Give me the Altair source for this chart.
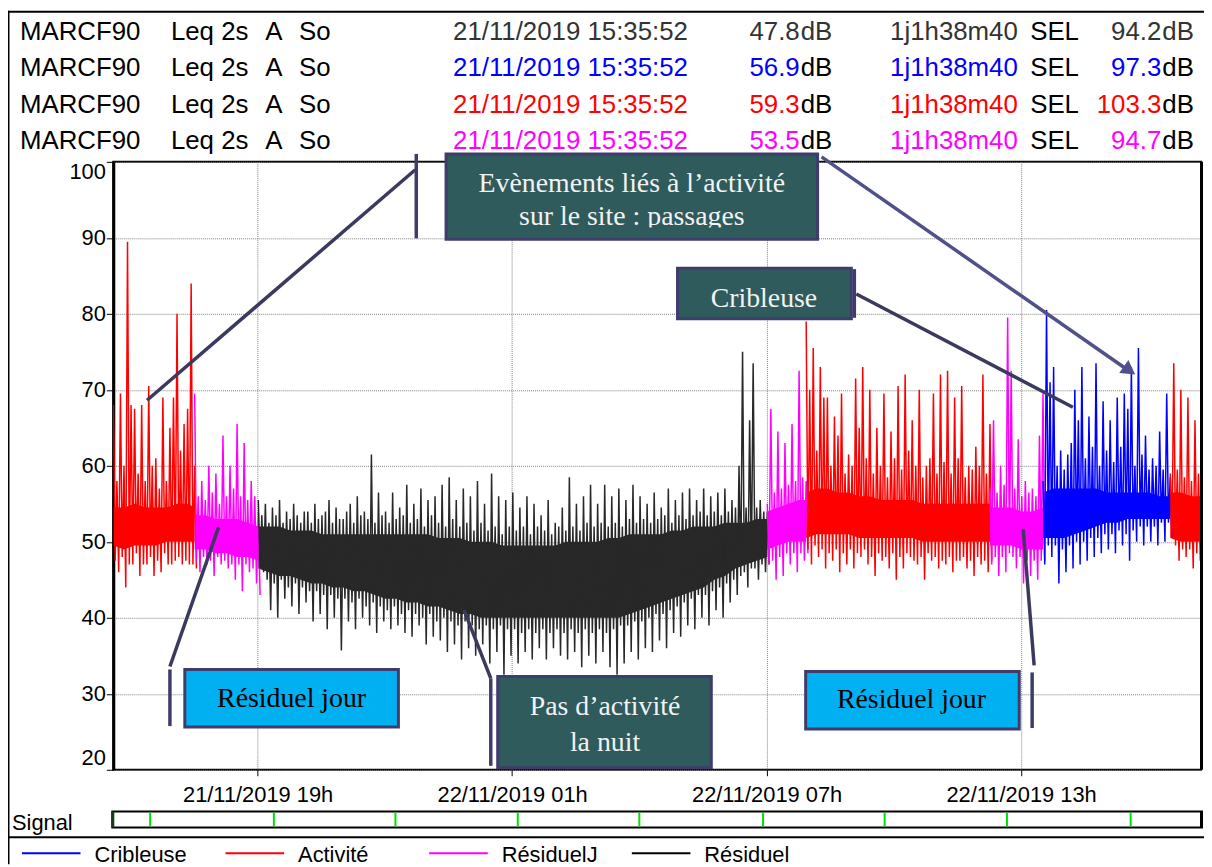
import altair as alt
import pandas as pd

# ---------------- data ----------------
SERIES = ["Cribleuse", "Activité", "RésiduelJ", "Résiduel"]
COLORS = ["#0000FF", "#FF0000", "#FF00FF", "#282828"]

STEP_MIN = 5      # minutes between read bins (max then min inside each bin)
CORE_STEP = 3     # dense core band read every 3 bins

seg_series = ["Activité", "RésiduelJ", "Résiduel", "RésiduelJ",
              "Activité", "RésiduelJ", "Cribleuse", "Activité"]
seg_start = ["2019-11-21 15:36", "2019-11-21 17:31", "2019-11-21 19:01",
             "2019-11-22 07:01", "2019-11-22 07:56", "2019-11-22 12:16",
             "2019-11-22 13:31", "2019-11-22 16:31"]

# --- Activité 15:36-17:31
red1_hi = [68, 58, 69.5, 60, 89.5, 68, 67.5, 59, 68, 58, 70.5, 60, 61, 57,
           69, 58, 65, 69, 80, 62, 65.5, 67.5, 84, 60]
red1_lo = [47.5, 46, 48, 44, 47, 47, 48.5, 45.5, 47, 47, 48, 45.5, 47.5, 46,
           48.5, 47, 47, 47.5, 48, 47, 47.5, 47, 47, 46.5]
red1_clo = [49.5, 49, 49.5, 49.5, 49.5, 50, 50, 50, 50]
red1_chi = [54.5, 54.5, 55, 54.5, 54.5, 54.5, 55, 55, 54.5]

# --- Résiduel J 17:31-19:01
mag1_hi = [69.5, 56, 58, 55.5, 60, 56.5, 59, 55, 64, 56, 60, 57, 65.5, 56,
           63, 55.5, 58, 56, 54]
mag1_lo = [47.5, 46, 48, 47, 47.5, 45.5, 48, 47, 47.5, 46.5, 47, 45, 47,
           43.5, 47, 46, 46.5, 44.5, 43]
mag1_clo = [49, 49, 48.5, 48.5, 48, 48, 47.5]
mag1_chi = [53.5, 53.5, 53, 53, 53, 52.5, 52]

# --- Résiduel (night) 19:01-07:01
night_hi = [55.5, 53.5, 55, 52.5, 54.5, 53.5, 55.5, 52.5, 54, 53,
            55, 53.5, 52.5, 54, 54, 52.5, 55, 53, 53.5, 54,
            55.5, 52.5, 54.5, 53, 53, 54, 55, 52.5, 56, 53.5,
            54, 53, 61.5, 52.5, 56.5, 53.5, 54, 52.5, 56.5, 53,
            54.5, 53.5, 57.5, 52.5, 55, 53, 57, 52, 55.5, 53.5,
            56, 52.5, 57.5, 52, 58.5, 53, 55.5, 52, 57, 52.5,
            56, 51.5, 58, 52.5, 55, 51.5, 59, 52, 56, 51,
            55.5, 52, 56.5, 51.5, 54.5, 52, 56, 51, 55, 52,
            53.5, 51.5, 55.5, 51, 52.5, 52, 54.5, 51.5, 58.5, 52,
            55, 51.5, 56, 52.5, 57.5, 52, 55, 52.5, 57.5, 52,
            56, 52.5, 57, 52, 55.5, 53, 57.5, 52.5, 56, 53,
            55, 52.5, 56.5, 53, 54.5, 53.5, 57, 52.5, 55.5, 53.5,
            56.5, 53, 57, 53.5, 55.5, 54, 57, 53.5, 56, 54,
            56.5, 53.5, 57, 54, 55.5, 54.5, 60, 75, 54.5, 66,
            73.5, 54.5, 55.5, 54, 54]
night_lo = [46.5, 46, 45, 41, 44.5, 40, 45, 42.5, 44, 41.5,
            44.5, 40.5, 44, 42, 43.5, 39.5, 43.5, 40.5, 43, 38.5,
            43, 40, 42.5, 35.7, 42.5, 39.5, 42, 38.5, 42.5, 40,
            41.5, 39, 42, 38, 41.5, 39.5, 41, 38.5, 41.5, 39,
            40.5, 38, 41, 37.5, 40.5, 39, 40, 36.5, 40.5, 37.5,
            39.5, 37, 40, 35.5, 39.5, 36.5, 39, 34.5, 39.5, 36,
            39, 35, 38.5, 36.5, 39, 34, 38.5, 35.5, 39, 32.5,
            38.5, 35, 38.5, 34, 38, 35.5, 38.5, 34.5, 38, 36,
            38.5, 34.5, 38, 36, 38.5, 35, 38, 34.5, 38.5, 35.5,
            38, 33.5, 38.5, 35, 38, 34, 38.5, 35.5, 38, 33.5,
            38.5, 32.5, 39, 34, 39, 35.5, 39.5, 34.5, 39.5, 36,
            40, 35.5, 40.5, 37, 40.5, 36, 41, 38, 41.5, 37.5,
            42, 39, 42.5, 38.5, 43, 40, 43, 39, 43.5, 41,
            44, 40, 44.5, 42, 45, 43, 45.5, 46, 44, 46.5,
            46.5, 45, 47, 46, 47]
night_clo = [46.5, 46, 45.5, 45.5, 45, 44.5, 44.5, 44, 44, 43.5, 43.5, 43,
             42.5, 42.5, 42, 42, 41.5, 41.5, 41, 40.5, 40.5, 40, 40, 40, 40,
             40, 40, 40, 40, 40, 40, 40, 40, 40, 40, 40.5, 41, 41.5, 42, 42.5,
             43, 43.5, 44, 45, 45.5, 46.5, 47, 47.5, 48]
night_chi = [52, 52, 52, 51.5, 51.5, 51.5, 51, 51, 51, 51, 51, 51, 51, 51,
             51, 51, 51, 50.5, 50.5, 50.5, 50, 50, 50, 49.5, 49.5, 49.5, 49.5,
             49.5, 49.5, 50, 50, 50, 50, 50.5, 50.5, 51, 51, 51, 51, 51.5,
             51.5, 52, 52, 52, 52.5, 52.5, 52.5, 53, 53]

# --- Résiduel J 07:01-07:56
mag2_hi = [55, 67.5, 56.5, 64.5, 57, 63, 57.5, 65.5, 58, 72.5, 58.5, 58]
mag2_lo = [47, 47.5, 45, 48, 45.5, 48.5, 47, 48.5, 46, 48.5, 47.5, 48.5]
mag2_clo = [49, 49.5, 50, 50, 50]
mag2_chi = [54, 54.5, 55, 55.5, 55.5]

# --- Activité 07:56-12:16
red2_hi = [79, 70, 75.5, 62, 73, 69, 69, 60, 66.5, 64,
           69.5, 59, 61.5, 60, 71.5, 65, 73, 61, 70, 59,
           65, 60, 69.5, 58.5, 64.5, 61, 70.5, 59.5, 72, 62,
           66, 60, 70, 58.5, 60, 61, 69.5, 59, 72, 60.5,
           72.5, 59, 69, 61, 70.5, 58.5, 60, 59.5, 62.5, 60,
           72, 59, 65.5]
red2_lo = [49, 47, 49.5, 48, 49, 46.5, 48.5, 47.5, 49, 46,
           48.5, 47, 49, 46.5, 48.5, 48, 49, 47, 48, 45.5,
           48.5, 47.5, 48, 46.5, 48.5, 45, 48, 46.5, 48.5, 48,
           47.5, 47, 48, 45, 48.5, 47.5, 48, 46.5, 47.5, 47,
           48, 46, 47.5, 47.5, 48, 46.5, 47.5, 45.5, 48, 47,
           47.5, 46, 47.5]
red2_clo = [50.5, 51, 51, 51, 51, 50.5, 50.5, 50.5, 50.5, 50.5, 50.5, 50,
            50, 50, 50, 50, 50, 50, 50]
red2_chi = [56.5, 57, 57, 56.5, 56.5, 56, 56, 55.5, 55.5, 55.5, 55.5, 55,
            55, 55, 55, 55, 55, 55, 55]

# --- Résiduel J 12:16-13:31
mag3_hi = [57, 66, 56.5, 60, 57.5, 79.5, 72.5, 57, 63.5, 56, 58, 56.5, 57,
           56, 64, 69.5]
mag3_lo = [47, 48, 45.5, 48, 46, 48.5, 48, 46.5, 48, 44.5, 47.5, 45.5, 47.5,
           45, 47.5, 47.5]
mag3_clo = [49.5, 49.5, 49.5, 49, 49, 49]
mag3_chi = [54.5, 54.5, 54.5, 54, 54, 54.5]

# --- Cribleuse 13:31-16:31
crib_hi = [58, 80.5, 71, 73, 60, 62, 59.5, 61.5, 63, 70,
           66, 73, 61, 66.5, 62.5, 73.5, 60, 68.5, 62, 66,
           60.5, 69, 62.5, 69.5, 67.5, 73, 60, 75.5, 61.5, 64,
           59.5, 61, 60, 64.5, 59.5, 69.5, 58.5]
crib_lo = [47, 49.5, 48, 49.5, 44.5, 49, 46, 49.5, 46.5, 50,
           47, 50, 47.5, 50.5, 48, 50.5, 48.5, 51, 49, 51,
           48.5, 51.5, 49.5, 51, 47.5, 51.5, 50, 52, 49.5, 52,
           50, 52, 49.5, 52.5, 50, 52.5, 50.5]
crib_clo = [50.5, 50.5, 50.5, 51, 51.5, 52, 52.5, 52.5, 53, 53, 53, 53, 53]
crib_chi = [56.5, 57, 57, 57, 57, 57, 56.5, 56.5, 56.5, 56.5, 56.5, 56, 56]

# --- Activité 16:31-17:16
red3_hi = [59, 73.5, 59.5, 70, 58.5, 69, 58, 66, 59, 62.5]
red3_lo = [50.5, 49.5, 47.5, 49, 48, 49, 46.5, 48.5, 47.5, 48.5]
red3_clo = [50.5, 50, 50, 50]
red3_chi = [56.5, 56.5, 56, 56]

seg_hi = [red1_hi, mag1_hi, night_hi, mag2_hi, red2_hi, mag3_hi, crib_hi, red3_hi]
seg_lo = [red1_lo, mag1_lo, night_lo, mag2_lo, red2_lo, mag3_lo, crib_lo, red3_lo]
seg_clo = [red1_clo, mag1_clo, night_clo, mag2_clo, red2_clo, mag3_clo, crib_clo, red3_clo]
seg_chi = [red1_chi, mag1_chi, night_chi, mag2_chi, red2_chi, mag3_chi, crib_chi, red3_chi]

signal_marks = ["2019-11-21T16:28:00", "2019-11-21T19:23:00", "2019-11-21T22:15:00",
                "2019-11-22T01:08:00", "2019-11-22T04:00:00", "2019-11-22T06:55:00",
                "2019-11-22T09:47:00", "2019-11-22T12:40:00", "2019-11-22T15:35:00"]

HDR_DATE = "21/11/2019 15:35:52"
HDR_DUR = "1j1h38m40"
HDR_LEQ = ["47.8", "56.9", "59.3", "53.5"]
HDR_SEL = ["94.2", "97.3", "103.3", "94.7"]
HDR_COL = ["#333333", "#0000FF", "#FF0000", "#FF00FF"]

Y_TICKS = [20, 30, 40, 50, 60, 70, 80, 90, 100]

# ---------------- tables ----------------
rows, core = [], []
for k, (name, start, hi, lo, clo, chi) in enumerate(
        zip(seg_series, seg_start, seg_hi, seg_lo, seg_clo, seg_chi)):
    t0 = pd.Timestamp(start)
    n = len(hi)
    assert len(lo) == n, (k, n, len(lo))
    for i in range(n):
        rows.append({"t": (t0 + pd.Timedelta(minutes=STEP_MIN * i)).isoformat(),
                     "db": hi[i], "series": name, "seg": k})
        rows.append({"t": (t0 + pd.Timedelta(minutes=STEP_MIN * i + STEP_MIN / 2)).isoformat(),
                     "db": lo[i], "series": name, "seg": k})
    idx = list(range(0, n - 1, CORE_STEP)) + [n - 1]
    assert len(idx) == len(clo) == len(chi), (k, len(idx), len(clo), len(chi))
    for j, i in enumerate(idx):
        core.append({"t": (t0 + pd.Timedelta(minutes=STEP_MIN * i)).isoformat(),
                     "lo": clo[j], "hi": chi[j], "series": name, "seg": k})
line_df = pd.DataFrame(rows)
core_df = pd.DataFrame(core)
sig_df = pd.DataFrame({"t": signal_marks})
ONE = pd.DataFrame({"k": [0]})

SANS = "Liberation Sans"
SERIF = "Liberation Serif"

X_SC = alt.Scale(domain=[alt.DateTime(year=2019, month=11, date=21, hours=15, minutes=35, seconds=52),
                         alt.DateTime(year=2019, month=11, date=22, hours=17, minutes=14, seconds=32)])
X_AX = alt.Axis(values=[alt.DateTime(year=2019, month=11, date=21, hours=19),
                        alt.DateTime(year=2019, month=11, date=22, hours=1),
                        alt.DateTime(year=2019, month=11, date=22, hours=7),
                        alt.DateTime(year=2019, month=11, date=22, hours=13)],
                labelExpr="timeFormat(datum.value, '%d/%m/%Y %Hh')",
                grid=True, gridColor="#808080", gridDash=[1, 1], gridWidth=1,
                domain=False, tickColor="black", tickSize=6, tickWidth=1,
                labelFont=SANS, labelFontSize=22, labelColor="black",
                labelPadding=9, labelOverlap=False, title=None)
Y_SC = alt.Scale(domain=[20, 100], nice=False, zero=False)
Y_AX = alt.Axis(values=Y_TICKS, grid=True, gridColor="#808080", gridDash=[1, 1],
                gridWidth=1, domain=True, domainColor="black", domainWidth=3,
                tickColor="black", tickSize=7, tickWidth=1, labelFont=SANS,
                labelFontSize=22, labelColor="black", labelPadding=1,
                labelFlush=True, title=None)
C_ENC = alt.Color("series:N", scale=alt.Scale(domain=SERIES, range=COLORS), legend=None)

area = alt.Chart(core_df).mark_area(clip=True, opacity=1).encode(
    x=alt.X("t:T", scale=X_SC, axis=X_AX),
    y=alt.Y("lo:Q", scale=Y_SC, axis=Y_AX),
    y2="hi:Q",
    color=C_ENC,
    detail="seg:N",
)
lines = alt.Chart(line_df).mark_line(clip=True, strokeWidth=1.5).encode(
    x=alt.X("t:T", scale=X_SC, axis=X_AX),
    y=alt.Y("db:Q", scale=Y_SC, axis=Y_AX),
    color=C_ENC,
    detail="seg:N",
)

layers = [area, lines]


def txt(s, x, y, size=22, color="black", align="left", font=SANS):
    return alt.Chart(ONE).mark_text(text=s, align=align, baseline="alphabetic",
                                    font=font, fontSize=size, color=color).encode(
        x=alt.value(x), y=alt.value(y))


def seg(x1, y1, x2, y2, color, w):
    return alt.Chart(ONE).mark_rule(color=color, strokeWidth=w, strokeCap="butt").encode(
        x=alt.value(x1), y=alt.value(y1), x2=alt.value(x2), y2=alt.value(y2))


def rect(x1, y1, x2, y2, fill, stroke=None, w=0):
    kw = {"fill": fill, "opacity": 1}
    if stroke:
        kw.update(stroke=stroke, strokeWidth=w)
    return alt.Chart(ONE).mark_rect(**kw).encode(
        x=alt.value(x1), x2=alt.value(x2), y=alt.value(y1), y2=alt.value(y2))


# right frame edge a bit heavier
layers.append(seg(1095.5, 0, 1095.5, 612, "black", 3))

# signal strip
layers.append(rect(-1, 654, 1096, 670, "white", "black", 2))
layers.append(alt.Chart(sig_df).mark_rule(color="#00E000", strokeWidth=2).encode(
    x=alt.X("t:T", scale=X_SC, axis=X_AX), y=alt.value(655), y2=alt.value(669)))
layers.append(seg(-0.5, 654, -0.5, 670, "#1a3a1a", 3))
layers.append(seg(1095.5, 654, 1095.5, 670, "black", 3))
layers.append(txt("Signal", -102, 673))

# frame lines
layers.append(seg(-105.5, -152, -105.5, 707, "black", 2))
layers.append(seg(-106, -151, 1098, -151, "black", 2))
layers.append(seg(-106, 680, 1098, 680, "black", 2))

# header
row_base = [-122.7, -86, -49.3, -12.7]
for r in range(4):
    y = row_base[r]
    col = HDR_COL[r]
    dbc = "#333333" if r == 0 else "black"
    layers += [
        txt("MARCF90", -94, y, 26),
        txt("Leq 2s", 58, y, 26),
        txt("A", 153, y, 26),
        txt("So", 187, y, 26),
        txt(HDR_DATE, 342, y, 26, col),
        txt(HDR_LEQ[r], 691, y, 26, col, "right"),
        txt("dB", 692, y, 26, dbc),
        txt(HDR_DUR, 782, y, 26, col),
        txt("SEL", 923, y, 26),
        txt(HDR_SEL[r], 1055, y, 26, col, "right"),
        txt("dB", 1056, y, 26, dbc),
    ]

# annotations
TEAL = "#2F5B5C"
EDGE = "#3E3C6B"
LINEC = "#3A3A5E"
ARROWC = "#50508A"
LIGHT = "#00B0F0"
WHITE = "#F2F2F2"

layers += [
    # événements
    seg(304, 8, 34, 240, LINEC, 3.5),
    seg(305, -8, 305, 77, EDGE, 3.5),
    seg(713, -5, 1022, 210, ARROWC, 3.5),
    alt.Chart(ONE).mark_point(shape="triangle-up", angle=125, size=260, filled=True,
                              opacity=1, color=ARROWC).encode(x=alt.value(1023), y=alt.value(210)),
    rect(335, -8, 709, 78, TEAL, EDGE, 3),
    txt("Evènements liés à l’activité", 522, 30, 28, WHITE, "center", SERIF),
    txt("sur le site : passages", 522, 64, 28, WHITE, "center", SERIF),
    rect(337, 66, 707, 76.5, TEAL),
    # cribleuse
    seg(748, 133, 966, 247, LINEC, 3.5),
    seg(746, 108, 746, 157, EDGE, 3.5),
    rect(568, 107, 743, 158, TEAL, EDGE, 3),
    txt("Cribleuse", 655, 146, 28, WHITE, "center", SERIF),
    # résiduel jour gauche
    seg(57, 508, 106, 368, LINEC, 3.5),
    seg(57, 511, 57, 568, EDGE, 3.5),
    rect(72, 511, 287, 569, LIGHT, EDGE, 3),
    txt("Résiduel jour", 179.5, 549, 28, "black", "center", SERIF),
    # pas d'activité
    seg(380, 520, 353, 451, LINEC, 3.5),
    seg(380, 520, 380, 608, EDGE, 3.5),
    rect(387, 518, 602, 610, TEAL, EDGE, 3),
    txt("Pas d’activité", 495, 557, 28, WHITE, "center", SERIF),
    txt("la nuit", 495, 593, 28, WHITE, "center", SERIF),
    # résiduel jour droite
    seg(927, 507, 916, 370, LINEC, 3.5),
    seg(925, 514, 925, 570, EDGE, 3.5),
    rect(697, 513, 912, 571, LIGHT, EDGE, 3),
    txt("Résiduel jour", 803.5, 550, 28, "black", "center", SERIF),
]

# legend
LEG_X = [-92, 113, 318, 522]
for name, colr, lx in zip(SERIES, COLORS, LEG_X):
    layers.append(seg(lx, 696, lx + 59, 696, "black" if name == "Résiduel" else colr, 2))
    layers.append(txt(name, lx + 73, 705, 22))

chart = alt.layer(*layers).properties(
    width=1095, height=612,
    padding={"left": 106, "top": 152, "right": 3, "bottom": 95},
    autosize=alt.AutoSizeParams(type="none"),
).configure_view(stroke="black", strokeWidth=2)

chart.save("out.html", embed_options={"renderer": "svg", "actions": False})
